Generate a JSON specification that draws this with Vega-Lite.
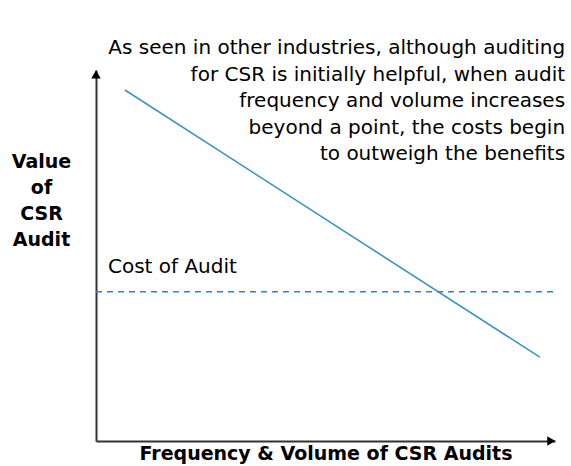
{
  "$schema": "https://vega.github.io/schema/vega-lite/v6.json",
  "width": 459,
  "height": 371,
  "padding": {"left": 96, "top": 70, "right": 16, "bottom": 25},
  "autosize": {"type": "none"},
  "background": "white",
  "config": {"view": {"stroke": null}, "font": "DejaVu Sans"},
  "datasets": {
    "value": [{"x": 6.3, "y": 94.6}, {"x": 96.7, "y": 22.6}],
    "cost": [{"x": 0, "y": 40.2}, {"x": 100, "y": 40.2}],
    "labels": [
      {"x": 2.6, "y": 46.9, "text": "Cost of Audit"}
    ],
    "note": [
      {"x": 102.2, "y": 105.9, "text": "As seen in other industries, although auditing\nfor CSR is initially helpful, when audit\nfrequency and volume increases\nbeyond a point, the costs begin\nto outweigh the benefits"}
    ],
    "xarrow": [{"x": 99.2, "y": 0}],
    "yarrow": [{"x": 0, "y": 98.8}]
  },
  "layer": [
    {
      "data": {"name": "value"},
      "mark": {"type": "line", "color": "#3b93c4", "strokeWidth": 1.6, "clip": false},
      "encoding": {
        "x": {"field": "x", "type": "quantitative", "scale": {"domain": [0, 100]},
          "axis": {"title": "Frequency & Volume of CSR Audits", "titleFont": "DejaVu Sans", "titleFontSize": 19, "titleFontWeight": "bold", "titleColor": "black", "titleBaseline": "middle", "titleY": 12, "labels": false, "ticks": false, "grid": false, "domainColor": "#333", "domainWidth": 2}},
        "y": {"field": "y", "type": "quantitative", "scale": {"domain": [0, 100]},
          "axis": {"title": ["Value", "of", "CSR", "Audit"], "titleFont": "DejaVu Sans", "titleFontSize": 19, "titleFontWeight": "bold", "titleColor": "black", "titleAngle": 0, "titleAlign": "center", "titleBaseline": "middle", "titleX": -55, "titleY": 91, "titleLineHeight": 26, "labels": false, "ticks": false, "grid": false, "domainColor": "#333", "domainWidth": 2}}
      }
    },
    {
      "data": {"name": "cost"},
      "mark": {"type": "line", "color": "#2f86b8", "strokeWidth": 1.5, "strokeDash": [6, 5], "clip": false},
      "encoding": {
        "x": {"field": "x", "type": "quantitative"},
        "y": {"field": "y", "type": "quantitative"}
      }
    },
    {
      "data": {"name": "labels"},
      "mark": {"type": "text", "align": "left", "baseline": "middle", "fontSize": 20, "color": "black", "clip": false},
      "encoding": {
        "x": {"field": "x", "type": "quantitative"},
        "y": {"field": "y", "type": "quantitative"},
        "text": {"field": "text"}
      }
    },
    {
      "data": {"name": "note"},
      "mark": {"type": "text", "align": "right", "baseline": "middle", "fontSize": 20, "lineHeight": 26.5, "lineBreak": "\n", "color": "black", "clip": false},
      "encoding": {
        "x": {"field": "x", "type": "quantitative"},
        "y": {"field": "y", "type": "quantitative"},
        "text": {"field": "text"}
      }
    },
    {
      "data": {"name": "xarrow"},
      "mark": {"type": "point", "shape": "triangle-right", "filled": true, "color": "black", "size": 90, "opacity": 1, "clip": false},
      "encoding": {
        "x": {"field": "x", "type": "quantitative"},
        "y": {"field": "y", "type": "quantitative"}
      }
    },
    {
      "data": {"name": "yarrow"},
      "mark": {"type": "point", "shape": "triangle-up", "filled": true, "color": "black", "size": 90, "opacity": 1, "clip": false},
      "encoding": {
        "x": {"field": "x", "type": "quantitative"},
        "y": {"field": "y", "type": "quantitative"}
      }
    }
  ]
}
